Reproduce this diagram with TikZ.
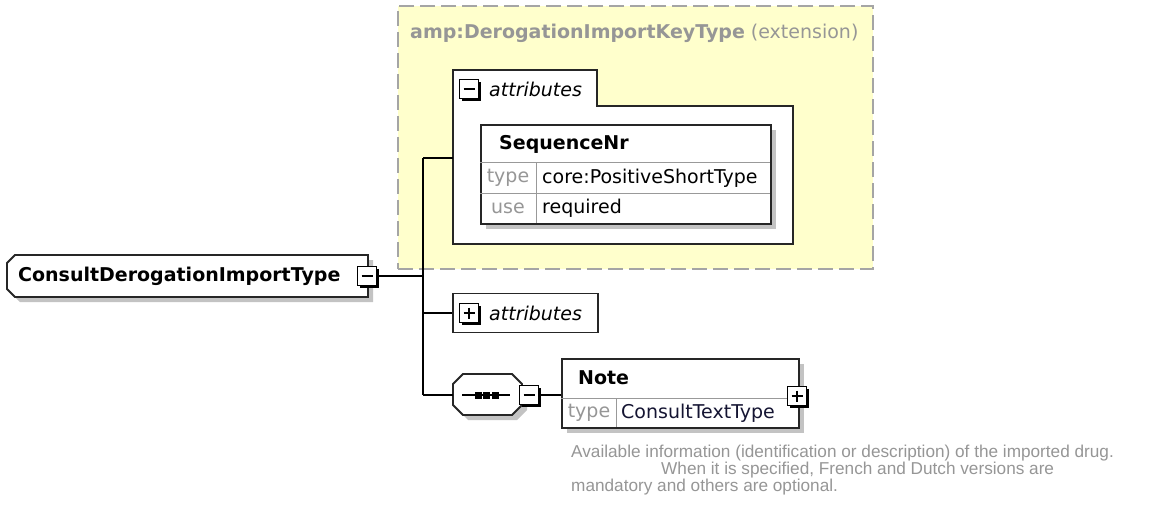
\documentclass[tikz,border=0pt]{standalone}
\usepackage{fontspec}
\setmainfont{DejaVu Sans}
\newfontfamily\descfont{Liberation Sans}
\usepackage{xcolor}
\usepackage{tikz}
\usetikzlibrary{positioning, shadows, calc}

\definecolor{extyellow}{RGB}{255,255,204}
\definecolor{extborder}{RGB}{165,165,165}
\definecolor{labelgray}{RGB}{150,150,150}
\definecolor{shadowgray}{RGB}{195,195,195}
\definecolor{typeref}{RGB}{20,20,50}

\begin{document}
\begin{tikzpicture}[x=1pt, y=-1pt,
    conn/.style={line width=1.5pt},
    elemline/.style={line width=1.8pt, draw=black!85},
    elemshadow/.style={drop shadow={shadow xshift=5pt, shadow yshift=-5pt, fill=shadowgray, opacity=1}},
    btn/.style={draw, line width=1.5pt, fill=white, minimum width=19pt, minimum height=19pt, inner sep=0pt,
      drop shadow={shadow xshift=2.5pt, shadow yshift=-2.5pt, fill=black, opacity=1}},
    btnminus/.style={btn, path picture={
      \draw[line width=1.5pt] ([xshift=4pt]path picture bounding box.west) -- ([xshift=-4pt]path picture bounding box.east);}},
    btnplus/.style={btn, path picture={
      \draw[line width=1.5pt] ([xshift=4pt]path picture bounding box.west) -- ([xshift=-4pt]path picture bounding box.east);
      \draw[line width=1.5pt] ([yshift=-4pt]path picture bounding box.north) -- ([yshift=4pt]path picture bounding box.south);}},
    elemname/.style={font=\fontsize{19}{22}\bfseries\selectfont, inner sep=0pt},
    attrval/.style={font=\fontsize{19}{22}\selectfont, inner sep=0pt},
    attrkey/.style={font=\fontsize{19}{22}\selectfont, text=labelgray, inner sep=0pt},
    grplabel/.style={font=\fontsize{19}{22}\itshape\selectfont, inner sep=0pt},
    rowsep/.style={line width=1pt, draw=black!40},
  ]
    \useasboundingbox[fill=white] (0,0) rectangle (1150,505);

    % -- extension (base type) --
    \node[draw=extborder, fill=extyellow, line width=2pt, dash pattern=on 15pt off 6pt,
      minimum width=475pt, minimum height=263pt, anchor=north west, inner sep=0pt] (ext) at (397,5) {};
    \node[anchor=west, text=labelgray, font=\fontsize{19}{22}\selectfont, inner sep=0pt] (ext-title) at (410,33)
      {\textbf{amp:DerogationImportKeyType} (extension)};

    % attribute group (expanded)
    \draw[elemline, fill=white] (453,70) -- (597,70) -- (597,106) -- (793,106) -- (793,244) -- (453,244) -- cycle;
    \coordinate (grp-a) at (453,158);
    \node[btnminus] (grp-a-btn) at (469,89) {};
    \node[grplabel, anchor=west] (grp-a-label) at (489,89) {attributes};

    % SequenceNr
    \node[draw=black!85, line width=1.8pt, fill=white, elemshadow, minimum width=290pt, minimum height=99pt,
      anchor=north west, inner sep=0pt] (seq) at (480,124) {};
    \node[elemname, anchor=west] (seq-name) at (499,144) {SequenceNr};
    \draw[rowsep] (480,163) -- (770,163);
    \draw[rowsep] (480,193) -- (770,193);
    \draw[rowsep] (536,163) -- (536,223);
    \node[attrkey] (seq-type-k) at (508,178) {type};
    \node[attrval, anchor=west] (seq-type-v) at (542,178) {core:PositiveShortType};
    \node[attrkey] (seq-use-k) at (508,208) {use};
    \node[attrval, anchor=west] (seq-use-v) at (542,208) {required};

    % -- root type --
    \draw[elemline, fill=white, elemshadow] (15,255) -- (368,255) -- (368,297) -- (15,297) -- (7,289) -- (7,263) -- cycle;
    \node[elemname, anchor=west] (root) at (18,276) {ConsultDerogationImportType};
    \node[btnminus] (root-btn) at (367,276) {};

    % bus
    \coordinate (bus-top) at (423,158);
    \coordinate (bus-root) at (423,276);
    \coordinate (bus-attr) at (423,313);
    \coordinate (bus-bot) at (423,395);
    \draw[conn] (bus-top) -- (bus-bot);
    \draw[conn] (bus-top) -- (grp-a);
    \draw[conn] (root-btn.east) -- (bus-root);

    % attribute group (collapsed)
    \node[draw=black!85, line width=1.8pt, fill=white, minimum width=145pt, minimum height=39pt,
      anchor=west, inner sep=0pt] (grp-b) at (452,313) {};
    \node[btnplus] (grp-b-btn) at (469,313) {};
    \node[grplabel, anchor=west] (grp-b-label) at (489,313) {attributes};
    \draw[conn] (bus-attr) -- (grp-b.west);

    % sequence compositor
    \draw[elemline, fill=white, elemshadow] (463,374) -- (512,374) -- (522,384) -- (522,405) -- (512,415)
      -- (463,415) -- (453,405) -- (453,384) -- cycle;
    \coordinate (seq-comp) at (453,395);
    \draw[line width=1.5pt] (462,395) -- (510,395);
    \foreach \dx in {478,486.5,495}
      \fill (\dx-3.5,391.5) rectangle (\dx+3.5,398.5);
    \node[btnminus] (seq-comp-btn) at (529,395) {};
    \draw[conn] (bus-bot) -- (seq-comp);

    % Note
    \node[draw=black!85, line width=1.8pt, fill=white, elemshadow, minimum width=237pt, minimum height=69pt,
      anchor=north west, inner sep=0pt] (note) at (561,358) {};
    \node[elemname, anchor=west] (note-name) at (578,378) {Note};
    \draw[rowsep] (561,398) -- (798,398);
    \draw[rowsep] (616,398) -- (616,427);
    \node[attrkey] (note-type-k) at (589,413) {type};
    \node[attrval, anchor=west, text=typeref] (note-type-v) at (621,413) {ConsultTextType};
    \node[btnplus] (note-btn) at (797,396) {};
    \draw[conn] (seq-comp-btn.east) -- (seq-comp-btn.east -| note.west);

    \node[anchor=north west, align=left, inner sep=0pt, text=labelgray,
      font=\descfont\fontsize{17.2}{16}\selectfont] (note-doc) at (571,445)
      {Available information (identification or description) of the imported drug.\\
       \hspace*{90pt}When it is specified, French and Dutch versions are\\
       mandatory and others are optional.};
\end{tikzpicture}
\end{document}
